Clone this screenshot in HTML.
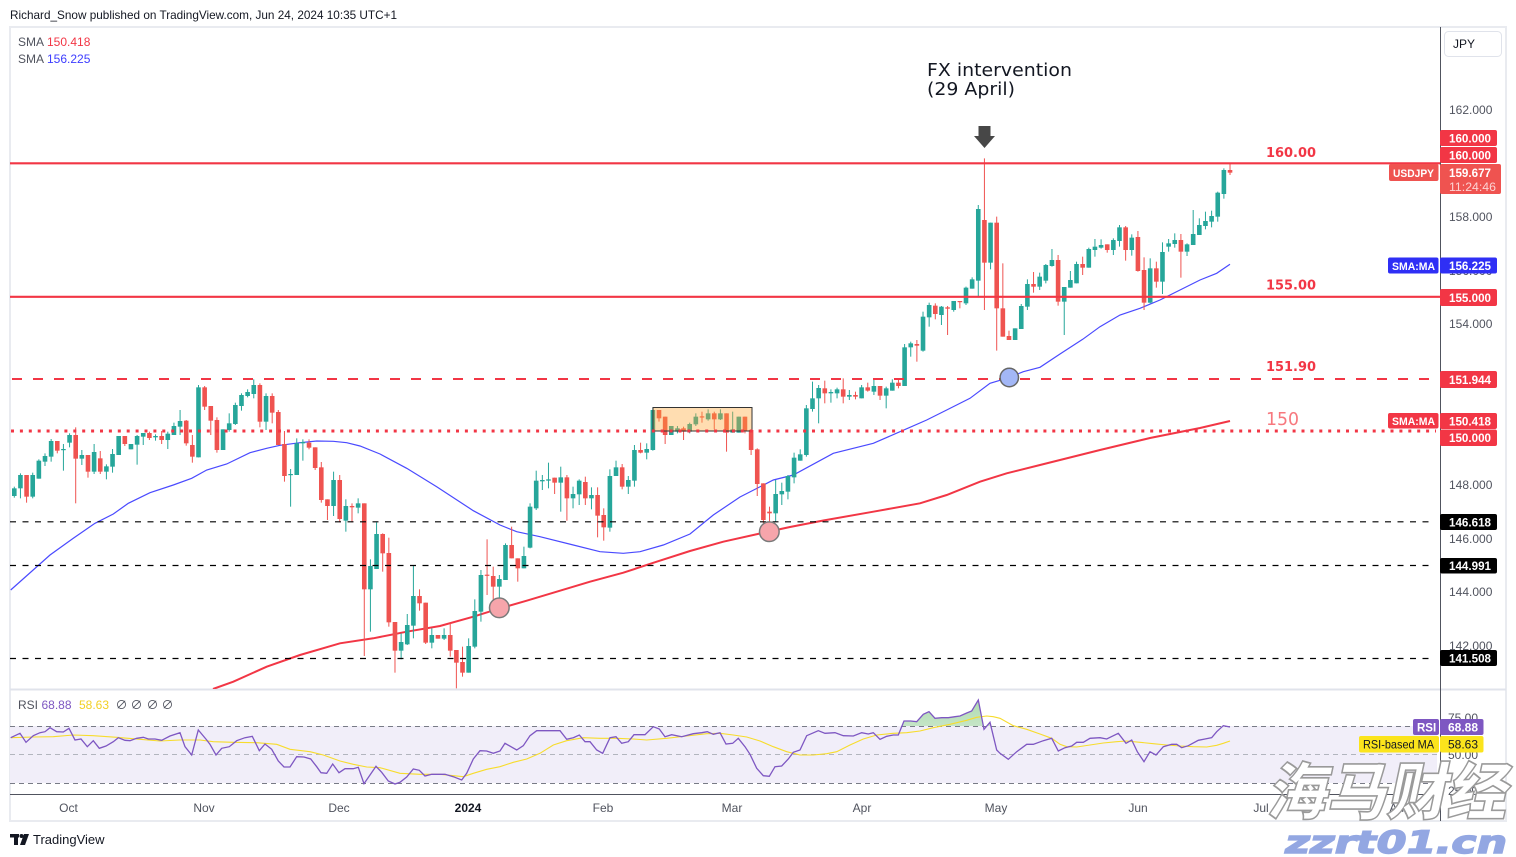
<!DOCTYPE html>
<html><head><meta charset="utf-8"><title>USDJPY</title>
<style>
html,body{margin:0;padding:0;background:#fff;}
svg{display:block;font-family:"Liberation Sans","Noto Sans CJK SC",sans-serif;}
</style></head><body>
<svg id="c" width="1516" height="857" viewBox="0 0 1516 857" xmlns="http://www.w3.org/2000/svg">
<defs>
<clipPath id="mainClip"><rect x="10" y="27" width="1430" height="662"/></clipPath>
<clipPath id="obClip"><rect x="10" y="690" width="1428" height="36"/></clipPath>
<linearGradient id="obG" x1="0" y1="0" x2="0" y2="1"><stop offset="0" stop-color="#4caf50" stop-opacity="0.45"/><stop offset="1" stop-color="#4caf50" stop-opacity="0.05"/></linearGradient>
</defs>
<rect width="1516" height="857" fill="#fff"/>
<text x="10" y="19" font-size="12" fill="#131722" textLength="387" lengthAdjust="spacingAndGlyphs">Richard_Snow published on TradingView.com, Jun 24, 2024 10:35 UTC+1</text>

<!-- frame -->
<rect x="10" y="27" width="1496" height="794" fill="none" stroke="#e9ebf0" stroke-width="2"/>

<!-- RSI band -->
<rect x="10" y="726" width="1427" height="57" fill="#f1eef9"/>
<line x1="10" x2="1437" y1="726.5" y2="726.5" stroke="#787b86" stroke-width="1" stroke-dasharray="5 4"/>
<line x1="10" x2="1437" y1="754.5" y2="754.5" stroke="#b2b5be" stroke-width="1" stroke-dasharray="5 4"/>
<line x1="10" x2="1437" y1="783.5" y2="783.5" stroke="#787b86" stroke-width="1" stroke-dasharray="5 4"/>

<!-- pane divider / axes -->
<line x1="10" x2="1506" y1="689.5" y2="689.5" stroke="#e0e3eb" stroke-width="2"/>
<line x1="10" x2="1440" y1="794.5" y2="794.5" stroke="#50535e" stroke-width="1"/>
<line x1="1440.5" x2="1440.5" y1="27" y2="821" stroke="#50535e" stroke-width="1"/>

<g id="mainG" clip-path="url(#mainClip)">
  <polyline id="smaRed" fill="none" stroke="#f23645" stroke-width="2"/>
  <polyline id="smaBlue" fill="none" stroke="#4a4aff" stroke-width="1.2"/>
  <g id="candles"></g>
  <!-- orange box -->
  <rect x="653" y="407.5" width="99" height="23.5" fill="rgba(255,165,50,0.38)" stroke="#333" stroke-width="1"/>
  <!-- horizontal lines -->
  <line x1="10" x2="1440" y1="163.3" y2="163.3" stroke="#f23645" stroke-width="2.2"/>
  <line x1="10" x2="1440" y1="296.8" y2="296.8" stroke="#f23645" stroke-width="2.2"/>
  <line x1="12" x2="1434" y1="379" y2="379" stroke="#f23645" stroke-width="2" stroke-dasharray="10 11"/>
  <line x1="11" x2="1436" y1="431" y2="431" stroke="#f23645" stroke-width="3" stroke-dasharray="3 5.9"/>
  <line x1="10" x2="1434" y1="521.8" y2="521.8" stroke="#000" stroke-width="1.2" stroke-dasharray="6 6.5"/>
  <line x1="10" x2="1434" y1="565.5" y2="565.5" stroke="#000" stroke-width="1.2" stroke-dasharray="6 6.5"/>
  <line x1="10" x2="1434" y1="658.5" y2="658.5" stroke="#000" stroke-width="1.2" stroke-dasharray="6 6.5"/>
  <!-- circles -->
  <circle cx="499.3" cy="607.8" r="9.8" fill="#f6a5ab" stroke="#7a7a7a" stroke-width="1.5"/>
  <circle cx="769.3" cy="531.7" r="9.8" fill="#f6a5ab" stroke="#7a7a7a" stroke-width="1.5"/>
  <circle cx="1009.3" cy="377.5" r="9.2" fill="#a3b7f6" stroke="#666" stroke-width="1.5"/>
</g>

<!-- line labels -->
<g font-family="'DejaVu Sans','Liberation Sans',sans-serif">
<text x="1266" y="157" font-size="13.5" font-weight="bold" fill="#f23645" textLength="50" lengthAdjust="spacingAndGlyphs">160.00</text>
<text x="1266" y="289.5" font-size="13.5" font-weight="bold" fill="#f23645" textLength="50" lengthAdjust="spacingAndGlyphs">155.00</text>
<text x="1266" y="371" font-size="13.5" font-weight="bold" fill="#f23645" textLength="50" lengthAdjust="spacingAndGlyphs">151.90</text>
<text x="1266" y="425" font-size="18" fill="#f7787e" textLength="33" lengthAdjust="spacingAndGlyphs">150</text>

<!-- annotation -->
<text x="927" y="76" font-size="18" fill="#131722" textLength="145" lengthAdjust="spacingAndGlyphs">FX intervention</text>
<text x="927" y="95" font-size="18" fill="#131722" textLength="88" lengthAdjust="spacingAndGlyphs">(29 April)</text>
</g>
<rect x="978.5" y="126" width="12" height="11" fill="#474747"/>
<polygon points="974,136 995,136 984.5,148" fill="#474747"/>

<!-- legend -->
<text x="18" y="46" font-size="12" fill="#50535e">SMA</text>
<text x="47" y="46" font-size="12" fill="#f23645">150.418</text>
<text x="18" y="63" font-size="12" fill="#50535e">SMA</text>
<text x="47" y="63" font-size="12" fill="#3d3dff">156.225</text>

<!-- JPY button -->
<rect x="1444.5" y="31.5" width="57" height="25" rx="4" fill="#fff" stroke="#e0e3eb"/>
<text x="1453" y="48" font-size="12" fill="#131722">JPY</text>

<!-- price axis labels -->
<g font-size="12" fill="#50535e">
<text x="1449" y="114">162.000</text>
<text x="1449" y="221">158.000</text>
<text x="1449" y="275">156.000</text>
<text x="1449" y="328">154.000</text>
<text x="1449" y="489">148.000</text>
<text x="1449" y="543">146.000</text>
<text x="1449" y="596">144.000</text>
<text x="1449" y="650">142.000</text>
</g>

<!-- price boxes -->
<g font-size="12" font-weight="bold" fill="#fff">
<rect x="1440" y="130" width="57" height="16" rx="2" fill="#f23645"/>
<text x="1449" y="142.5" textLength="42" lengthAdjust="spacingAndGlyphs">160.000</text>
<rect x="1440" y="147" width="57" height="16" rx="2" fill="#f23645"/>
<text x="1449" y="159.5" textLength="42" lengthAdjust="spacingAndGlyphs">160.000</text>
<rect x="1440" y="164" width="61" height="30" rx="2" fill="#ef5350"/>
<text x="1449" y="177" textLength="42" lengthAdjust="spacingAndGlyphs">159.677</text>
<text x="1449" y="191" fill="#fcd3d3" font-weight="normal" textLength="47" lengthAdjust="spacingAndGlyphs">11:24:46</text>
<rect x="1389" y="164" width="49.5" height="17" rx="2" fill="#ef5350"/>
<text x="1393" y="177" font-size="11" textLength="41" lengthAdjust="spacingAndGlyphs">USDJPY</text>
<rect x="1388" y="257.5" width="50.5" height="16" rx="2" fill="#2f2ff5"/>
<text x="1392" y="270" font-size="11" textLength="43" lengthAdjust="spacingAndGlyphs">SMA:MA</text>
<rect x="1440" y="257.5" width="57" height="16" rx="2" fill="#2f2ff5"/>
<text x="1449" y="270" textLength="42" lengthAdjust="spacingAndGlyphs">156.225</text>
<rect x="1440" y="289" width="57" height="17" rx="2" fill="#f23645"/>
<text x="1449" y="302" textLength="42" lengthAdjust="spacingAndGlyphs">155.000</text>
<rect x="1440" y="371" width="57" height="17" rx="2" fill="#f23645"/>
<text x="1449" y="384" textLength="42" lengthAdjust="spacingAndGlyphs">151.944</text>
<rect x="1388" y="413" width="50.5" height="15.5" rx="2" fill="#f23645"/>
<text x="1392" y="425" font-size="11" textLength="43" lengthAdjust="spacingAndGlyphs">SMA:MA</text>
<rect x="1440" y="413" width="57" height="16" rx="2" fill="#f23645"/>
<text x="1449" y="425.5" textLength="42" lengthAdjust="spacingAndGlyphs">150.418</text>
<rect x="1440" y="429.5" width="57" height="16.5" rx="2" fill="#f23645"/>
<text x="1449" y="442" textLength="42" lengthAdjust="spacingAndGlyphs">150.000</text>
<rect x="1440" y="514" width="57" height="16" rx="2" fill="#000"/>
<text x="1449" y="526.5" textLength="42" lengthAdjust="spacingAndGlyphs">146.618</text>
<rect x="1440" y="558" width="57" height="15.5" rx="2" fill="#000"/>
<text x="1449" y="570" textLength="42" lengthAdjust="spacingAndGlyphs">144.991</text>
<rect x="1440" y="650" width="57" height="16" rx="2" fill="#000"/>
<text x="1449" y="662.5" textLength="42" lengthAdjust="spacingAndGlyphs">141.508</text>
</g>

<!-- RSI lines -->
<path id="obFill" fill="url(#obG)" clip-path="url(#obClip)"/>
<polyline id="rsiMA" fill="none" stroke="#f7dc2c" stroke-width="1.1"/>
<polyline id="rsiLine" fill="none" stroke="#7e57c2" stroke-width="1.3"/>

<!-- RSI legend -->
<text x="18" y="709" font-size="12" fill="#50535e">RSI</text>
<text x="41.5" y="709" font-size="12" fill="#7e57c2">68.88</text>
<text x="79" y="709" font-size="12" fill="#f2d024">58.63</text>
<text x="115.5" y="709" font-size="12" fill="#50535e">∅</text>
<text x="130.5" y="709" font-size="12" fill="#50535e">∅</text>
<text x="146.5" y="709" font-size="12" fill="#50535e">∅</text>
<text x="161.5" y="709" font-size="12" fill="#50535e">∅</text>

<!-- RSI axis -->
<g font-size="12" fill="#50535e">
<text x="1448" y="722">75.00</text>
<text x="1448" y="759">50.00</text>
<text x="1448" y="795">25.00</text>
</g>
<rect x="1413" y="719" width="26" height="16" rx="2" fill="#7e57c2"/>
<text x="1417" y="731.5" font-size="11.5" font-weight="bold" fill="#fff">RSI</text>
<rect x="1440" y="719" width="43.5" height="16" rx="2" fill="#7e57c2"/>
<text x="1448" y="731.5" font-size="12" font-weight="bold" fill="#fff">68.88</text>
<rect x="1359" y="736" width="80" height="16.5" rx="2" fill="#fbe41c"/>
<text x="1363" y="748.5" font-size="12" fill="#131722" textLength="71" lengthAdjust="spacingAndGlyphs">RSI-based MA</text>
<rect x="1440" y="736" width="43.5" height="16.5" rx="2" fill="#fbe41c"/>
<text x="1448" y="748.5" font-size="12" fill="#131722">58.63</text>

<!-- time axis -->
<g font-size="12" fill="#50535e" text-anchor="middle">
<text x="68.5" y="812">Oct</text>
<text x="204" y="812">Nov</text>
<text x="339" y="812">Dec</text>
<text x="468" y="812" font-weight="bold" fill="#131722">2024</text>
<text x="603" y="812">Feb</text>
<text x="732" y="812">Mar</text>
<text x="862" y="812">Apr</text>
<text x="996" y="812">May</text>
<text x="1138" y="812">Jun</text>
<text x="1261" y="812">Jul</text>
<text x="1400" y="812">Aug</text>
</g>

<!-- footer logo -->
<g fill="#131722">
<rect x="10" y="834" width="9" height="3.5"/>
<rect x="14" y="834" width="4" height="11"/>
<circle cx="21.5" cy="836" r="2"/>
<polygon points="24,834 29,834 25,845 20,845"/>
</g>
<text x="33" y="844" font-size="13" fill="#131722">TradingView</text>

<!-- watermark -->
<g transform="translate(1266,814) skewX(-12)">
<text x="0" y="0" font-family="'Noto Sans CJK SC','WenQuanYi Zen Hei',sans-serif" font-size="62" font-weight="900" fill="#fff" stroke="#9a9a9a" stroke-width="1.6" textLength="240" lengthAdjust="spacingAndGlyphs">海马财经</text>
</g>
<g transform="translate(1283,853) skewX(-14)">
<text x="0" y="0" font-family="'DejaVu Sans','Liberation Sans',sans-serif" font-size="31" font-weight="bold" fill="#93a7e2" stroke="#93a7e2" stroke-width="1.5" textLength="222" lengthAdjust="spacingAndGlyphs">zzrt01.cn</text>
</g>
</svg>
<script>
(function(){
var NS='http://www.w3.org/2000/svg';
function add(p,t,a){var e=document.createElementNS(NS,t);for(var k in a)e.setAttribute(k,a[k]);p.appendChild(e);return e;}
var groups=[
[370,[[1,355,378,350,383],[1,315,355,310,385],[0,315,380,315,398],[1,315,380,308,385],[1,272,326,268,326],[1,258,275,250,288],[1,213,260,207,275],[0,213,242,213,250],[1,237,240,222,302],[1,195,218,190,232],[0,195,266,172,400],[1,255,266,240,285],[0,255,305,255,323],[1,246,305,222,312],[0,265,305,243,312],[1,289,305,283,328],[1,252,290,237,308],[1,198,255,198,255],[0,198,222,198,228],[1,222,238,222,238],[1,198,224,195,284],[1,189,200,189,225],[0,189,204,185,210],[1,198,202,193,212],[0,198,210,183,222],[1,191,210,185,237],[1,168,195,158,195],[1,153,170,120,195],[0,152,220,150,227],[0,225,260,195,278],[1,52,262,45,262],[0,52,110,48,120],[0,108,152,108,195],[0,150,240,142,248],[1,178,240,178,240],[1,160,180,130,185],[1,105,162,98,165],[1,75,108,70,122],[1,66,78,58,82],[1,45,72,28,85],[0,45,155,40,172],[1,78,155,70,180],[0,78,128,70,160],[0,126,225,120,225],[0,222,318,183,335],[1,312,315,297,410],[1,220,315,205,315],[1,216,220,208,272],[0,218,233,208,238],[0,232,294,232,300],[0,292,390,276,398],[0,388,408,388,450],[1,330,408,305,438],[0,330,447,315,457],[1,408,452,388,485],[0,408,412,400,457],[1,400,413,385,430]]],
[390,[[0,340,598,340,798],[1,528,598,508,725],[1,432,537,397,537],[0,432,490,430,545],[0,489,697,443,710],[0,696,782,696,848],[1,756,782,730,808],[1,705,763,672,765],[1,618,707,528,745],[0,618,640,598,662],[0,638,758,638,762],[1,735,758,715,775],[0,735,746,735,746],[1,735,746,715,750],[0,735,782,700,800],[0,780,818,780,895],[0,816,848,770,860],[1,768,848,745,848],[1,663,770,628,775],[1,555,665,540,695],[0,554,557,448,615],[0,558,590,530,630],[1,567,590,555,650],[1,465,570,460,570],[0,465,505,410,505],[0,505,535,505,575],[1,498,535,470,535],[1,350,473,340,475],[1,272,355,242,360],[1,270,274,255,300],[1,268,272,218,295],[0,263,278,263,312],[1,262,278,230,365],[0,262,325,255,392],[1,312,325,290,355],[1,272,313,268,345],[0,276,325,260,345],[1,315,325,292,358],[0,315,377,292,442],[0,375,412,355,452],[1,258,413,238,425],[1,232,258,212,258],[0,232,290,222,298],[1,270,290,258,312],[1,180,272,165,290],[0,180,188,158,190],[1,177,188,160,208],[1,60,180,52,182],[0,60,85,60,95],[0,80,135,80,162],[1,108,135,108,135],[1,115,125,108,130],[0,115,125,110,150],[1,102,125,98,130],[1,80,103,70,108],[0,79,82,65,98],[1,70,88,58,92],[0,70,88,65,118],[1,70,88,58,90],[0,70,128,70,185],[1,118,128,65,128],[1,80,128,80,128],[0,80,122,80,130],[0,120,180,120,195],[0,178,282,175,318]]],
[190,[[0,880,990,880,1000],[0,965,970,950,1000],[1,912,970,870,995],[1,903,913,878,945],[1,858,905,855,928],[1,803,862,788,880],[1,793,812,778,812],[1,655,795,645,800],[1,625,657,575,665],[1,594,625,585,700],[0,595,610,572,640],[1,606,610,598,638],[1,598,610,593,625],[0,598,620,565,640],[1,615,620,600,630],[0,615,620,605,628],[1,592,625,585,625],[0,592,602,578,605],[1,588,605,568,615],[0,588,617,588,630],[1,595,617,590,655],[1,578,602,568,602],[0,578,588,568,595],[1,472,588,462,588],[1,460,472,455,500],[0,462,467,450,515],[1,380,482,365,485],[1,345,382,338,410],[0,347,372,340,388],[1,350,375,348,405],[0,352,356,348,435],[1,333,360,333,365],[0,333,336,333,355],[1,293,340,290,345],[1,268,296,262,296],[1,57,272,45,322],[0,90,218,-95,360],[1,98,218,98,238],[0,98,355,80,482]]],
[140,[[0,505,590,370,590],[0,588,600,572,600],[1,565,600,565,600],[1,498,567,492,567],[1,432,500,418,510],[0,432,440,396,458],[1,410,440,398,450],[1,375,422,372,430],[1,360,378,327,380],[0,360,485,345,497],[1,441,485,441,585],[1,420,443,393,443],[1,372,430,365,430],[0,372,383,350,405],[1,327,383,323,383],[1,320,330,297,350],[1,315,323,298,326],[0,313,330,313,338],[1,300,330,295,345],[1,262,303,255,320],[0,262,330,258,362],[1,293,330,283,347],[0,291,393,273,395],[0,390,488,352,510],[1,385,488,355,490],[0,385,425,365,443],[1,336,425,307,462],[1,310,320,297,335],[1,300,312,280,323],[0,300,335,282,413],[1,313,335,310,348],[1,282,315,210,315],[1,255,285,235,285],[1,243,258,215,268],[1,228,245,212,262],[1,158,230,155,245],[1,90,162,85,176],[0,90,98,72,105]]]
];
var gC=document.getElementById('candles');
var n=0;
groups.forEach(function(g){var y0=g[0];g[1].forEach(function(c){
  var x=14.3+n*6.14;n++;
  var col=c[0]?'#26a69a':'#ef5350';
  var bt=y0+c[1]/3,bb=y0+c[2]/3,wt=y0+c[3]/3,wb=y0+c[4]/3;
  add(gC,'line',{x1:x,x2:x,y1:Math.min(wt,bt),y2:Math.max(wb,bb),stroke:col,'stroke-width':1});
  var h=Math.max(1.2,bb-bt);
  add(gC,'rect',{x:x-2.3,y:bt,width:4.6,height:h,fill:col});
});});
function pts(a){return a.map(function(p){return p[0].toFixed(1)+','+p[1].toFixed(1);}).join(' ');}
var blue=[[10.7,590],[50,555],[73.3,538.3],[95,523.3],[113.3,514],[128.3,503.3],[150,492.7],[173.3,485],[191.7,478.3],[206.7,470],[226.7,464],[250,452.7],[266.7,448.3],[280,445.3],[300,442.7],[316.7,441],[333.3,441.3],[346.7,442.7],[360,446],[380,454],[406.7,468.3],[436.7,486.7],[473.3,510.7],[500,525],[516.7,531.7],[540,536.7],[573.3,545],[600,551.7],[623.3,553.3],[640,551.7],[663.3,545],[690,534],[713.3,515],[740,497],[773.3,480],[793.3,475],[833.3,453.3],[873.3,443.3],[900,431.7],[926.7,420],[946.7,410],[970,398.3],[990,383.3],[1006.7,378.3],[1023.3,371.7],[1040,367.3],[1060,354],[1082.7,339.3],[1100,326.7],[1120,315],[1140,308.3],[1160,300],[1180,290],[1200,280],[1216.7,273.3],[1230,264.3]];
var red=[[213,689],[233.3,681.7],[266.7,666.7],[300,655],[340,643.3],[373.3,638.3],[406.7,631.7],[440,626],[473.3,616.7],[500,608.3],[526.7,600.7],[556.7,591.7],[590,581.7],[623.3,572.7],[656.7,561.7],[690,551],[723.3,541.7],[760,533.5],[790,527],[823.3,520.5],[873.3,511.7],[920,503.3],[946.7,495],[980,481.7],[1006.7,473.3],[1040,465],[1100,450],[1150,438],[1200,428],[1230,421]];
document.getElementById('smaBlue').setAttribute('points',pts(blue));
document.getElementById('smaRed').setAttribute('points',pts(red));
function mapZ(arr,x0){return arr.map(function(p){return [x0+p[0]/3,685+p[1]/3];});}
var z7p=[[32,158],[60,145],[78,172],[100,152],[120,143],[135,140],[150,128],[170,140],[190,141],[207,130],[225,165],[243,162],[262,185],[280,167],[298,190],[318,183],[340,170],[355,158],[375,166],[390,167],[410,160],[430,157],[445,162],[465,162],[485,166],[510,153],[540,143],[555,185],[575,210],[595,135],[620,165],[630,178],[648,210],[665,190],[688,185],[710,167],[735,158],[757,154],[778,197],[795,177],[815,193],[835,228],[852,246],[870,246],[890,215],[912,216],[932,222],[950,245],[963,263],[980,265],[998,237],[1017,263],[1035,251],[1060,251],[1075,247],[1092,296],[1110,270],[1128,244],[1145,262],[1165,288],[1185,297],[1200,292],[1220,276],[1240,252],[1258,256],[1275,273],[1295,268],[1335,268],[1360,275],[1385,285],[1400,265],[1420,222],[1440,197],[1460,198],[1480,205]];
var z8p=[[0,198],[15,175],[50,195],[70,182],[90,152],[110,137],[150,137],[180,137],[200,163],[220,158],[238,150],[255,170],[270,170],[290,195],[308,205],[330,158],[348,155],[365,175],[385,170],[402,149],[435,149],[460,125],[478,132],[495,155],[515,149],[545,155],[580,146],[605,143],[622,140],[640,148],[660,143],[678,177],[698,175],[715,160],[735,185],[750,208],[770,250],[790,272],[808,274],[825,245],[845,243],[865,222],[880,202],[900,195],[920,152],[955,137],[975,145],[1005,143],[1030,152],[1060,153],[1085,143],[1105,147],[1120,143],[1140,163],[1160,154],[1180,150],[1195,150],[1212,108],[1232,108],[1250,110],[1270,88],[1287,80],[1305,100],[1325,98],[1345,98],[1365,95],[1380,93],[1400,84],[1415,78],[1435,45],[1452,133],[1470,112],[1490,195]];
var z9p=[[0,205],[25,223],[50,200],[80,178],[100,178],[130,167],[155,160],[175,198],[195,188],[215,183],[230,172],[250,172],[270,160],[300,158],[320,162],[355,145],[378,175],[395,165],[412,200],[432,230],[450,200],[468,210],[490,185],[515,178],[530,178],[545,188],[565,182],[595,166],[615,162],[635,158],[650,140],[670,122],[690,126]];
var z7y=[[32,158],[100,156],[160,155],[220,150],[280,152],[350,157],[420,163],[480,168],[540,165],[600,165],[640,170],[700,172],[770,173],[830,178],[870,193],[930,200],[970,210],[1020,228],[1060,238],[1100,246],[1140,248],[1200,265],[1260,268],[1320,268],[1390,275],[1420,265],[1460,253]];
var z8y=[[0,245],[40,232],[80,222],[120,205],[160,180],[200,167],[250,158],[300,160],[350,160],[400,162],[440,165],[500,160],[560,153],[620,146],[660,145],[700,150],[740,156],[780,168],[820,185],[860,200],[900,210],[940,210],[980,206],[1010,200],[1050,180],[1090,162],[1130,150],[1180,145],[1220,143],[1260,138],[1300,128],[1350,118],[1400,106],[1430,97],[1460,93],[1480,95]];
var z9y=[[0,100],[40,122],[80,133],[120,147],[155,160],[180,178],[200,185],[230,186],[270,180],[310,174],[350,170],[380,168],[420,172],[460,176],[500,180],[540,183],[580,185],[620,186],[650,181],[670,175],[690,168]];
var rsi=mapZ(z7p,0).concat(mapZ(z8p,500),mapZ(z9p,1000));
var ma=mapZ(z7y,0).concat(mapZ(z8y,500),mapZ(z9y,1000));
document.getElementById('rsiLine').setAttribute('points',pts(rsi));
document.getElementById('rsiMA').setAttribute('points',pts(ma));
var d='M'+rsi[0][0].toFixed(1)+',726.5';
rsi.forEach(function(p){d+=' L'+p[0].toFixed(1)+','+p[1].toFixed(1);});
d+=' L'+rsi[rsi.length-1][0].toFixed(1)+',726.5 Z';
document.getElementById('obFill').setAttribute('d',d);
})();
</script>
</body></html>
